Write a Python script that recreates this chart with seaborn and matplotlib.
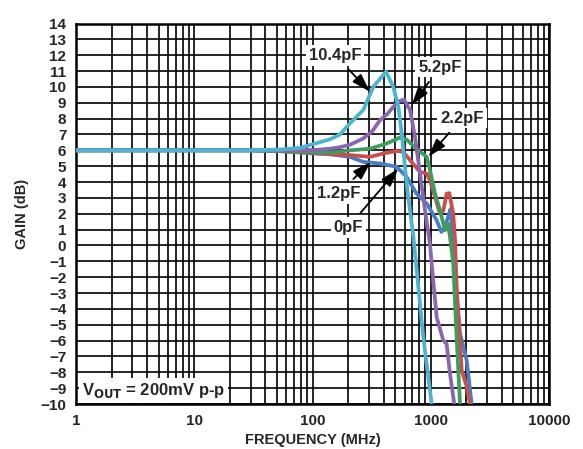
import numpy as np
import pandas as pd
import matplotlib
matplotlib.use("Agg")
import matplotlib.pyplot as plt
import matplotlib.ticker as mticker
import seaborn as sb

sb.set_style("white")
plt.rcParams['font.family'] = ['Liberation Sans', 'DejaVu Sans']
plt.rcParams['font.weight'] = 'bold'

# curve data (frequency in MHz, gain in dB)
f_0pF = [1, 10, 30, 53, 102, 141, 207, 269, 372, 515, 625, 758, 924, 1122, 1230, 1319, 1400, 1470, 1550, 1650, 1768, 1888, 2014, 2218]
g_0pF = [6.0, 6.0, 6.0, 5.95, 5.8, 5.75, 5.59, 5.27, 5.17, 4.96, 4.32, 3.27, 2.64, 1.59, 0.85, 1.16, 1.8, 2.3, 0.0, -3.0, -5.57, -6.4, -7.26, -10]
f_1p2 = [1, 10, 30, 53, 102, 141, 207, 306, 397, 515, 586, 668, 811, 924, 985, 1087, 1197, 1277, 1362, 1436, 1549, 1600, 1656, 1829, 2014, 2148]
g_1p2 = [6.0, 6.0, 6.0, 5.95, 5.85, 5.75, 5.7, 5.59, 5.8, 5.96, 5.9, 5.38, 4.64, 4.54, 4.1, 3.06, 2.0, 2.2, 3.27, 3.3, 2.0, 0.5, -2.6, -7.9, -8.9, -10]
f_2p2 = [1, 10, 30, 53, 102, 141, 207, 306, 424, 550, 625, 758, 924, 985, 1087, 1197, 1319, 1400, 1455, 1549, 1656, 1768]
g_2p2 = [6.0, 6.0, 6.0, 5.97, 5.9, 5.85, 6.0, 6.1, 6.43, 6.81, 6.68, 6.1, 5.59, 4.75, 3.27, 2.22, 0.96, 1.4, 0.53, -1.15, -5.8, -10]
f_5p2 = [1, 10, 30, 53, 102, 141, 171, 207, 269, 320, 372, 430, 482, 540, 594, 668, 736, 811, 894, 985, 1018, 1122, 1277, 1362, 1450, 1580]
g_5p2 = [6.0, 6.0, 6.0, 6.0, 6.02, 6.1, 6.2, 6.35, 6.75, 7.2, 7.9, 8.3, 8.74, 9.1, 9.21, 8.54, 6.85, 4.54, 2.22, 0.11, -1.15, -4.52, -6.0, -6.2, -8.0, -10]
f_10p4 = [1, 10, 30, 53, 78, 102, 141, 171, 207, 269, 327, 418, 482, 532, 568, 625, 690, 713, 785, 865, 1018]
g_10p4 = [6.0, 6.0, 6.0, 6.05, 6.15, 6.4, 6.7, 7.0, 7.7, 8.55, 10.0, 10.96, 10.0, 8.74, 7.06, 3.9, 1.38, 0.53, -2.6, -5.8, -10]

series = [
    ("0pF", f_0pF, g_0pF, "#4a7cc6"),
    ("1.2pF", f_1p2, g_1p2, "#c8504c"),
    ("2.2pF", f_2p2, g_2p2, "#3e9c5e"),
    ("5.2pF", f_5p2, g_5p2, "#8a66b0"),
    ("10.4pF", f_10p4, g_10p4, "#4cb4d2"),
]

fig = plt.figure(figsize=(5.83, 4.49), dpi=100)
ax = fig.add_axes([76 / 583, 1 - 404 / 449, 473 / 583, 380.5 / 449])

for name, f, g, c in series:
    df = pd.DataFrame({"f": f, "g": g})
    sb.lineplot(data=df, x="f", y="g", ax=ax, color=c, lw=2.7,
                sort=False, estimator=None, zorder=3)

ax.set_xscale("log")
ax.set_xlim(1, 10000)
ax.set_ylim(-10, 14)
ax.xaxis.set_major_locator(mticker.LogLocator(base=10, numticks=10))
ax.xaxis.set_minor_locator(mticker.LogLocator(base=10, subs=np.arange(2, 10), numticks=100))
ax.xaxis.set_major_formatter(mticker.FuncFormatter(lambda v, p: f"{v:g}"))
ax.xaxis.set_minor_formatter(mticker.NullFormatter())
ax.yaxis.set_major_locator(mticker.MultipleLocator(1))
ax.grid(which="both", color="black", lw=1.2)
ax.tick_params(which="both", length=0, labelsize=11, pad=7)
for lab in ax.get_xticklabels() + ax.get_yticklabels():
    lab.set_fontweight("bold")
for sp in ax.spines.values():
    sp.set_color("black")
    sp.set_linewidth(1.8)
ax.set_xlabel("FREQUENCY (MHz)", fontsize=10.5, fontweight="bold", labelpad=4)
ax.set_ylabel("GAIN (dB)", fontsize=10.5, fontweight="bold", labelpad=8)

box = dict(facecolor="white", edgecolor="none", pad=2)
arrow = dict(arrowstyle="-|>,head_length=0.8,head_width=0.25", color="black", lw=1.3,
             mutation_scale=14, shrinkA=4, shrinkB=0)
# label text, text position (freq, gain), arrow tip (freq, gain)
labels = [
    ("10.4pF", (155, 12.0), (306, 9.7)),
    ("5.2pF", (1197, 11.25), (690, 8.85)),
    ("2.2pF", (1837, 8.03), (953, 5.59)),
    ("1.2pF", (167, 3.29), (311, 5.27)),
    ("0pF", (200, 1.14), (532, 4.85)),
]
for txt, xy_t, xy_a in labels:
    ax.annotate(txt, xy=xy_a, xytext=xy_t, ha="center", va="center",
                fontsize=12, fontweight="bold", bbox=box, arrowprops=arrow, zorder=5)

ax.text(1.13, -9.15, r"V$_{\mathbf{OUT}}$ = 200mV p-p", fontsize=12, fontweight="bold",
        ha="left", va="center", bbox=box, zorder=5)

fig.savefig("out.png", dpi=100)
